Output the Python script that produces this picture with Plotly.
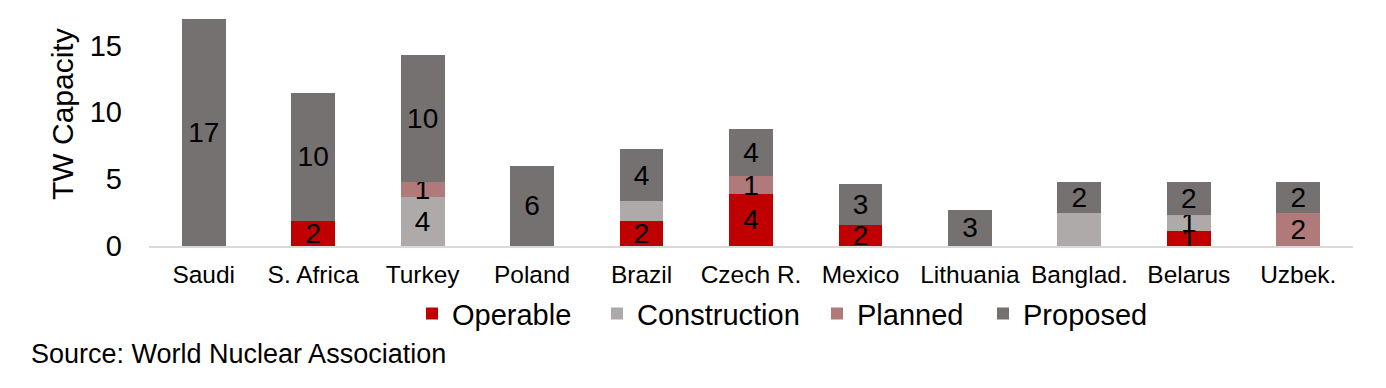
import plotly.graph_objects as go

categories = ["Saudi", "S. Africa", "Turkey", "Poland", "Brazil", "Czech R.",
              "Mexico", "Lithuania", "Banglad.", "Belarus", "Uzbek."]

operable = [0, 1.9, 0, 0, 1.9, 3.9, 1.6, 0, 0, 1.15, 0]
construction = [0, 0, 3.7, 0, 1.45, 0, 0, 0, 2.45, 1.15, 0]
planned = [0, 0, 1.05, 0, 0, 1.3, 0, 0, 0, 0, 2.45]
proposed = [17.0, 9.55, 9.5, 6.0, 3.9, 3.55, 3.0, 2.7, 2.3, 2.45, 2.3]

operable_labels = ["", "2", "", "", "2", "4", "2", "", "", "1", ""]
construction_labels = ["", "", "4", "", "", "", "", "", "", "1", ""]
planned_labels = ["", "", "1", "", "", "1", "", "", "", "", "2"]
proposed_labels = ["17", "10", "10", "6", "4", "4", "3", "3", "2", "2", "2"]

y_ticks = [0, 5, 10, 15]

series = [
    ("Operable", operable, operable_labels, "#C00000"),
    ("Construction", construction, construction_labels, "#AEAAAA"),
    ("Planned", planned, planned_labels, "#B07A7A"),
    ("Proposed", proposed, proposed_labels, "#767171"),
]

FONT = "Liberation Sans, Arial, sans-serif"

W, H = 1386, 388
ML, MR, MT, MB = 149, 33, 12, 142
plot_w = W - ML - MR
plot_h = H - MT - MB
# legend entry left positions (px) so that gaps match the reference layout
legend_px = [412, 597, 817, 983]
legend_names = ["legend", "legend2", "legend3", "legend4"]

fig = go.Figure()
for (name, vals, labels, color), lg in zip(series, legend_names):
    fig.add_trace(go.Bar(
        name=name, x=categories, y=vals, text=labels, legend=lg,
        marker=dict(color=color, line=dict(width=0)),
        textposition="inside", insidetextanchor="middle",
        constraintext="none", textangle=0,
        textfont=dict(family=FONT, size=28, color="#000000"),
        hoverinfo="skip",
    ))

legend_style = dict(orientation="h", y=-0.289, yanchor="middle", xanchor="left",
                    font=dict(family=FONT, size=29, color="#000000"),
                    itemwidth=30, bgcolor="rgba(0,0,0,0)")
legends = {}
for lg, px in zip(legend_names, legend_px):
    legends[lg] = dict(legend_style, x=(px - ML) / plot_w)

fig.update_layout(
    barmode="stack",
    bargap=0.6,
    width=W, height=H,
    margin=dict(l=ML, r=MR, t=MT, b=MB, autoexpand=False),
    plot_bgcolor="white", paper_bgcolor="white",
    font=dict(family=FONT, size=25, color="#000000"),
    showlegend=True,
    **legends,
)

fig.update_xaxes(
    showline=True, linecolor="#D9D9D9", linewidth=2, automargin=False,
    showgrid=False, ticks="", ticklabelstandoff=6,
    tickfont=dict(family=FONT, size=24.5, color="#000000"),
)
fig.update_yaxes(
    range=[0, 17.5], tickvals=y_ticks, showgrid=False, zeroline=False,
    showline=False, ticks="", ticklabelstandoff=26, automargin=False,
    tickfont=dict(family=FONT, size=29, color="#000000"),
)

fig.add_annotation(
    text="TW Capacity", xref="paper", yref="paper", textangle=-90,
    x=(62 - ML) / plot_w, y=(H - MB - 114) / plot_h,
    xanchor="center", yanchor="middle", showarrow=False,
    font=dict(family=FONT, size=30, color="#000000"),
)

fig.add_annotation(
    text="Source: World Nuclear Association", xref="paper", yref="paper",
    x=(29 - ML) / plot_w, y=-0.46, xanchor="left", yanchor="middle", showarrow=False,
    font=dict(family=FONT, size=27, color="#000000"),
)

fig.write_html("out.html", config={"displayModeBar": False},
               post_script="document.body.style.margin='0';")
